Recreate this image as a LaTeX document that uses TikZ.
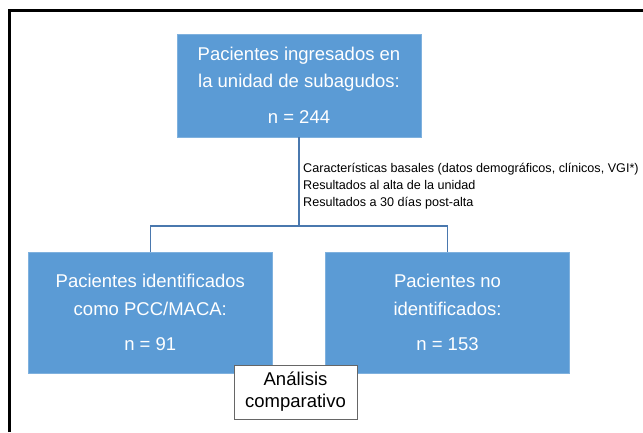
\documentclass[tikz,border=0pt]{standalone}
\usepackage{fontspec}
\setmainfont{Liberation Sans}
\definecolor{boxblue}{HTML}{5B9BD5}
\definecolor{boxedge}{HTML}{7FB1DE}
\definecolor{linkblue}{HTML}{4A78AE}
\tikzset{
  bluebox/.style={fill=boxblue, draw=boxedge, line width=0.8pt, text=white, align=center,
    minimum width=244pt, inner sep=0pt, font=\fontsize{18.5}{27.5}\selectfont},
  whitebox/.style={fill=white, draw=black!60, line width=0.7pt, align=center, inner sep=0pt,
    font=\fontsize{18.5}{22}\selectfont},
  link/.style={draw=linkblue, line width=1.6pt},
}

\begin{document}
\begin{tikzpicture}[x=1pt,y=-1pt]
        \useasboundingbox (0,0) rectangle (643,432);

        % frame
        \draw[line width=3pt] (9,432) -- (9,10.5) -- (643,10.5);

        % boxes
        \node[bluebox, minimum height=103pt] (ingresados) at (299,85.5) {Pacientes ingresados en\\la unidad de subagudos:\\[8.5pt]n = 244};
        \node[bluebox, minimum height=121pt] (identificados) at (150.3,312.5) {Pacientes identificados\\como PCC/MACA:\\[7.5pt]n = 91};
        \node[bluebox, minimum height=121pt] (noidentificados) at (447.5,312.5) {Pacientes no\\identificados:\\[7.5pt]n = 153};

        % lines
        \coordinate (split) at (299,226);
        \draw[link] (ingresados.south) -- (split);
        \draw[link] (split) -- (split -| identificados.north) -- (identificados.north);
        \draw[link] (split) -- (split -| noidentificados.north) -- (noidentificados.north);

        % labels
        \node[anchor=west, align=left, inner sep=0pt, font=\fontsize{12.6}{17}\selectfont] (variables) at (303,186)
            {Características basales (datos demográficos, clínicos, VGI*)\\Resultados al alta de la unidad\\Resultados a 30 días post-alta};
        \node[whitebox, minimum width=123pt, minimum height=54pt] (analisis) at (295.5,392) {Análisis\\comparativo};
\end{tikzpicture}
\end{document}
